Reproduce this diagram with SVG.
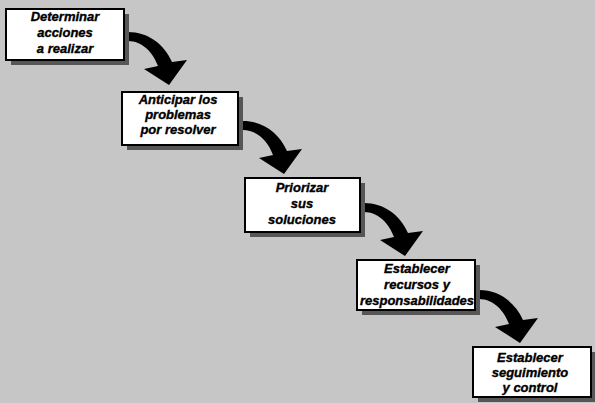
<svg xmlns="http://www.w3.org/2000/svg" xmlns:xlink="http://www.w3.org/1999/xlink" width="595" height="403" viewBox="0 0 595 403">
  <style>
    .shadow { fill: #565656; }
    .box { fill: #ffffff; stroke: #000000; stroke-width: 2; }
    .label { font-family: "Liberation Sans", Arial, sans-serif; font-size: 13px; font-weight: bold; font-style: italic; fill: #000000; stroke: #000000; stroke-width: 0.35; text-anchor: middle; }
    .arrow { fill: #000000; }
  </style>
  <defs>
    <!-- curved block arrow, origin at the tail's upper corner -->
    <path id="curved-arrow" class="arrow" d="M0,0 C20,0 36,12 44,30 L59,28 L41,53 L16,37 L30,34 C25,20 14,9 0,9 Z"/>
  </defs>

  <rect width="595" height="403" fill="#c6c6c6"/>

  <g id="connectors">
    <use xlink:href="#curved-arrow" x="128" y="32"/>
    <use xlink:href="#curved-arrow" x="243" y="121"/>
    <use xlink:href="#curved-arrow" x="364" y="203"/>
    <use xlink:href="#curved-arrow" x="479" y="290"/>
  </g>

  <g id="step1">
    <rect class="shadow" x="11" y="14" width="118" height="51"/>
    <rect class="box" x="6" y="9" width="118" height="51"/>
    <text class="label" x="65" y="21">Determinar</text>
    <text class="label" x="65" y="37">acciones</text>
    <text class="label" x="65" y="53">a realizar</text>
  </g>

  <g id="step2">
    <rect class="shadow" x="127" y="97" width="116" height="53"/>
    <rect class="box" x="122" y="92" width="116" height="53"/>
    <text class="label" x="178" y="104">Anticipar los</text>
    <text class="label" x="178" y="119">problemas</text>
    <text class="label" x="178" y="134">por resolver</text>
  </g>

  <g id="step3">
    <rect class="shadow" x="250" y="183" width="115" height="54"/>
    <rect class="box" x="245" y="178" width="115" height="54"/>
    <text class="label" x="302" y="192">Priorizar</text>
    <text class="label" x="302" y="208">sus</text>
    <text class="label" x="302" y="224">soluciones</text>
  </g>

  <g id="step4">
    <rect class="shadow" x="362" y="265" width="118" height="50"/>
    <rect class="box" x="357" y="260" width="118" height="50"/>
    <text class="label" x="417" y="273">Establecer</text>
    <text class="label" x="417" y="289">recursos y</text>
    <text class="label" x="417" y="305">responsabilidades</text>
  </g>

  <g id="step5">
    <rect class="shadow" x="478" y="352" width="118" height="50"/>
    <rect class="box" x="473" y="347" width="118" height="50"/>
    <text class="label" x="530" y="362">Establecer</text>
    <text class="label" x="530" y="377">seguimiento</text>
    <text class="label" x="530" y="392">y control</text>
  </g>
</svg>
